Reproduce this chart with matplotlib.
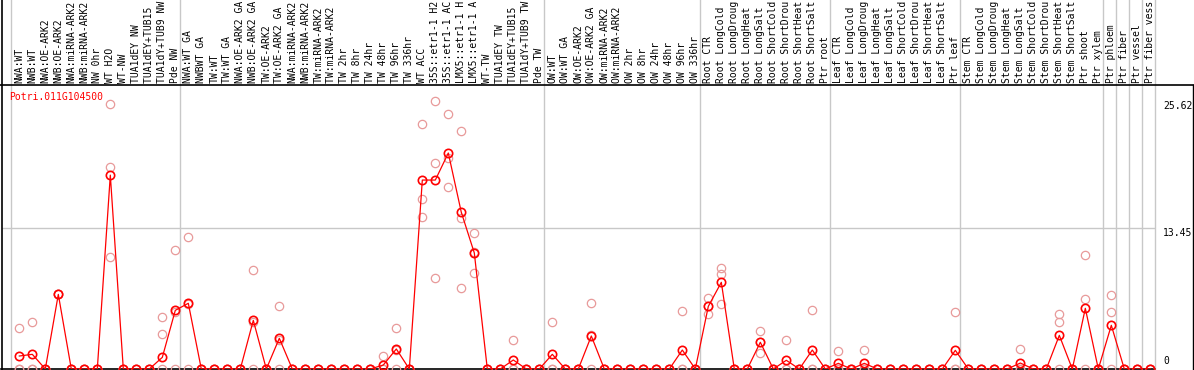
import matplotlib
matplotlib.use("Agg")
import matplotlib.pyplot as plt
from matplotlib.lines import Line2D
from matplotlib.transforms import blended_transform_factory

gene = "Potri.011G104500"

samples = [
    # NW
    "NWA:WT", "NWB:WT", "NWA:OE-ARK2", "NWB:OE-ARK2", "NWA:miRNA-ARK2", "NWB:miRNA-ARK2",
    "NW 0hr", "WT H2O", "WT-NW", "TUA1dEY NW", "TUA1dEY+TUB15 NW", "TUA1dY+TUB9 NW", "Pde NW",
    # GA / TW
    "NWA:WT GA", "NWBWT GA", "TW:WT", "TW:WT GA", "NWA:OE-ARK2 GA", "NWB:OE-ARK2 GA",
    "TW:OE-ARK2", "TW:OE-ARK2 GA", "NWA:miRNA-ARK2 GA", "NWB:miRNA-ARK2 GA", "TW:miRNA-ARK2",
    "TW:miRNA-ARK2 GA", "TW 2hr", "TW 8hr", "TW 24hr", "TW 48hr", "TW 96hr", "TW 336hr",
    "WT ACC", "35S::etr1-1 H2O", "35S::etr1-1 ACC", "LMX5::etr1-1 H2O", "LMX5::etr1-1 ACC",
    "WT-TW", "TUA1dEY TW", "TUA1dEY+TUB15 TW", "TUA1dY+TUB9 TW", "Pde TW",
    # OW
    "OW:WT", "OW:WT GA", "OW:OE-ARK2", "OW:OE-ARK2 GA", "OW:miRNA-ARK2", "OW:miRNA-ARK2 GA",
    "OW 2hr", "OW 8hr", "OW 24hr", "OW 48hr", "OW 96hr", "OW 336hr",
    # root
    "Root CTR", "Root LongCold", "Root LongDrought", "Root LongHeat", "Root LongSalt",
    "Root ShortCold", "Root ShortDrought", "Root ShortHeat", "Root ShortSalt", "Ptr root",
    # leaf
    "Leaf CTR", "Leaf LongCold", "Leaf LongDrought", "Leaf LongHeat", "Leaf LongSalt",
    "Leaf ShortCold", "Leaf ShortDrought", "Leaf ShortHeat", "Leaf ShortSalt", "Ptr leaf",
    # stem
    "Stem CTR", "Stem LongCold", "Stem LongDrought", "Stem LongHeat", "Stem LongSalt",
    "Stem ShortCold", "Stem ShortDrought", "Stem ShortHeat", "Stem ShortSalt", "Ptr shoot",
    "Ptr xylem",
    # tissues
    "Ptr phloem", "Ptr fiber", "Ptr vessel", "Ptr fiber vessel",
]

# first sample index of every group (last entry = end)
group_starts = [0, 13, 41, 53, 63, 73, 84, 85, 86, 87, 88]

# mean expression per sample (red line)
mean_expr = [
    1.24, 1.40, 0, 7.12, 0, 0, 0, 18.5, 0, 0, 0, 1.11, 5.60,
    6.27, 0, 0, 0, 0, 4.64, 0, 2.93, 0, 0, 0, 0, 0, 0, 0, 0.38, 1.91, 0,
    18.03, 18.03, 20.61, 14.95, 11.07, 0, 0, 0.86, 0, 0,
    1.40, 0, 0, 3.15, 0, 0, 0, 0, 0, 0, 1.81, 0,
    5.98, 8.27, 0, 0, 2.55, 0, 0.83, 0, 1.81, 0,
    0.54, 0, 0.54, 0, 0, 0, 0, 0, 0, 1.78,
    0, 0, 0, 0, 0.57, 0, 0, 3.21, 0, 5.79, 0,
    4.17, 0, 0, 0,
]

# replicate values (pale circles)
rep_a = [
    3.88, 4.45, 0, 7.12, 0, 0, 0, 25.30, 0, 0, 0, 3.34, 11.35,
    12.57, 0, 0, 0, 0, 9.41, 0, 6.01, 0, 0, 0, 0, 0, 0, 0, 1.24, 3.88, 0,
    23.35, 25.62, 24.30, 22.71, 12.95, 0, 0, 2.77, 0, 0,
    4.45, 0, 0, 6.27, 0, 0, 0, 0, 0, 0, 5.53, 0,
    6.74, 9.61, 0, 0, 3.60, 0, 2.74, 0, 5.60, 0,
    1.72, 0, 1.81, 0, 0, 0, 0, 0, 0, 5.41,
    0, 0, 0, 0, 1.88, 0, 0, 5.22, 0, 10.85, 0,
    7.03, 0, 0, 0,
]
rep_b = [
    0, 0, 0, 7.12, 0, 0, 0, 19.25, 0, 0, 0, 4.93, 5.45,
    6.24, 0, 0, 0, 0, 4.50, 0, 2.80, 0, 0, 0, 0, 0, 0, 0, 0, 1.85, 0,
    16.19, 19.63, 20.16, 14.38, 11.13, 0, 0, 0, 0, 0,
    0, 0, 0, 3.20, 0, 0, 0, 0, 0, 0, 0, 0,
    5.98, 9.06, 0, 0, 2.55, 0, 0, 0, 0, 0,
    0, 0, 0, 0, 0, 0, 0, 0, 0, 0,
    0, 0, 0, 0, 0, 0, 0, 4.45, 0, 6.65, 0,
    5.41, 0, 0, 0,
]
rep_c = [
    0, 0, 0, 7.12, 0, 0, 0, 10.66, 0, 0, 0, 0, 0,
    0, 0, 0, 0, 0, 0, 0, 0, 0, 0, 0, 0, 0, 0, 0, 0, 0, 0,
    14.50, 8.65, 17.34, 7.70, 9.13, 0, 0, 0, 0, 0,
    0, 0, 0, 0, 0, 0, 0, 0, 0, 0, 0, 0,
    5.22, 6.17, 0, 0, 1.50, 0, 0, 0, 0, 0,
    0, 0, 0, 0, 0, 0, 0, 0, 0, 0,
    0, 0, 0, 0, 0, 0, 0, 0, 0, 0, 0,
    0, 0, 0, 0,
]

y_ticks = [0, 13.45, 25.62]
y_tick_labels = ["0", "13.45", "25.62"]

plt.rcParams["font.family"] = "DejaVu Sans Mono"
plt.rcParams["font.size"] = 7

W, H = 1194, 370
fig = plt.figure(figsize=(W / 100, H / 100), dpi=100)
ax_l, ax_r, ax_t, ax_b = 1.5, 1155, 85, 369
ax = fig.add_axes([ax_l / W, (H - ax_b) / H, (ax_r - ax_l) / W, (ax_b - ax_t) / H])

x = list(range(len(samples)))
ax.set_xlim(-1.37, 87.36)
ax.set_ylim(0, 27.1)

pale = "#e89a9a"
for reps in (rep_a, rep_b, rep_c):
    ax.plot(x, reps, ls="none", marker="o", ms=6, mfc="none", mec=pale, mew=0.9, zorder=3)

ax.plot(x, mean_expr, color="red", lw=0.9, marker="o", ms=6, mfc="none", mec="red",
        mew=1.2, zorder=4)

# group separators, drawn through the label band too
above = 1 + ax_t / (ax_b - ax_t)
for b in group_starts:
    ax.axvline(b - 0.64, ymin=0, ymax=above, color="#c8c8c8", lw=1, clip_on=False, zorder=1)
ax.axhline(13.45, color="#c8c8c8", lw=1, zorder=1)

# sample labels, the label band only holds 14 characters
tr = blended_transform_factory(ax.transData, ax.transAxes)
for i, name in enumerate(samples):
    ax.text(i, 1 + 2 / (ax_b - ax_t), name[:14], rotation=90, ha="center", va="bottom",
            transform=tr, color="black", clip_on=False)

# value labels on the right
tr2 = blended_transform_factory(ax.transAxes, ax.transData)
xr = 1 + 8 / (ax_r - ax_l)
ax.text(xr, y_ticks[2], y_tick_labels[2], ha="left", va="top", transform=tr2, clip_on=False)
ax.text(xr, y_ticks[1], y_tick_labels[1], ha="left", va="top", transform=tr2, clip_on=False)
ax.text(xr, 0.25, y_tick_labels[0], ha="left", va="bottom", transform=tr2, clip_on=False)

ax.text(7.5 / (ax_r - ax_l), 1 - 12 / (ax_b - ax_t), gene, color="red", ha="left",
        va="center", transform=ax.transAxes)

ax.set_xticks([])
ax.set_yticks([])
for s in ("top", "right"):
    ax.spines[s].set_visible(False)
ax.spines["bottom"].set_linewidth(1.2)
ax.spines["left"].set_visible(False)

# frame lines of the whole picture
fig.add_artist(Line2D([0, 1], [(H - ax_t) / H] * 2, color="black", lw=1.2))
fig.add_artist(Line2D([1.5 / W] * 2, [0, 1], color="black", lw=1.2))
fig.add_artist(Line2D([1193 / W] * 2, [0, (H - ax_t) / H], color="black", lw=1.0))

fig.savefig("out.png", dpi=100)
